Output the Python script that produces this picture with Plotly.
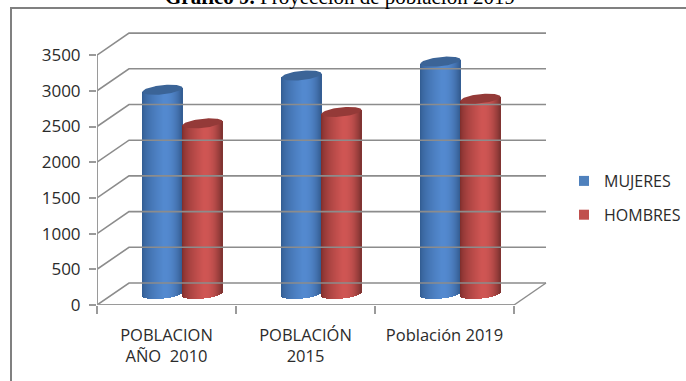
import numpy as np
import plotly.graph_objects as go

categories = ["POBLACION<br>AÑO  2010", "POBLACIÓN<br>2015", "Población 2019"]
mujeres = [2860, 3060, 3255]
hombres = [2390, 2550, 2735]
y_ticks = [0, 500, 1000, 1500, 2000, 2500, 3000, 3500]

W, H = 686, 381
L = 97                  # left edge of plot box in pixels
T, B = 0, 305           # plot box extends to the top of the page
CAT_PX = 139.0          # pixels per category
VAL_PX = 35.7 / 500     # pixels per unit
DX = 32 / CAT_PX        # 3-D depth offset in category units
DY = 22 / VAL_PX        # 3-D depth offset in value units
BAR_PX = 40             # cylinder width in pixels
HALF_H = 4.6 / VAL_PX   # ellipse half height
TILT = 2.0 / VAL_PX     # rise of the cap towards its right side

GRID = "#8c8c8c"
AXIS = "#9a9a9a"
TEXT = "#2b2b2b"
FRAME = "#808080"


def px(x):
    return (x - L) / (W - L)


def py(y):
    return (B - y) / (B - T)


fig = go.Figure()

for v in y_ticks:
    fig.add_trace(go.Scatter(x=[0, DX, 3 + DX], y=[v, v + DY, v + DY], mode="lines",
                             line=dict(color=GRID, width=1.6), showlegend=False, hoverinfo="skip"))
fig.add_trace(go.Scatter(x=[3, 3 + DX], y=[0, DY], mode="lines",
                         line=dict(color=GRID, width=1.4), showlegend=False, hoverinfo="skip"))
fig.add_trace(go.Scatter(x=[0, 0, 3], y=[3500, 0, 0], mode="lines",
                         line=dict(color=AXIS, width=2), showlegend=False, hoverinfo="skip"))


def shade(t, dark, mid, edge):
    dark, mid, edge = map(np.array, (dark, mid, edge))
    if t < 0.55:
        k = (t / 0.55) ** 0.55
        c = dark + (mid - dark) * k
    else:
        k = ((t - 0.55) / 0.45) ** 2.2
        c = mid + (edge - mid) * k
    return "rgb(%d,%d,%d)" % tuple(c)


def cylinder(i, value, side, dark, mid, edge, cap):
    cx = i + 0.5 + DX / 2 + side * (BAR_PX / 2) / CAT_PX
    base0 = DY / 2
    top0 = value + DY / 2
    n = BAR_PX
    ts = (np.arange(n) + 0.5) / n
    u = 2 * ts - 1
    xs = cx + u * (BAR_PX / 2) / CAT_PX
    bot = base0 - HALF_H * np.sqrt(1 - u ** 2) + TILT * u
    top = top0 + TILT * u
    fig.add_trace(go.Bar(x=xs, y=top - bot, base=bot, width=1.25 / CAT_PX,
                         marker=dict(color=[shade(t, dark, mid, edge) for t in ts], line=dict(width=0)),
                         showlegend=False, hoverinfo="skip"))
    th = np.linspace(0, 2 * np.pi, 80)
    ex = cx + np.cos(th) * (BAR_PX / 2) / CAT_PX
    ey = top0 + HALF_H * np.sin(th) + TILT * np.cos(th)
    fig.add_trace(go.Scatter(x=ex, y=ey, mode="lines", fill="toself", fillcolor=cap,
                             line=dict(width=0, color=cap), showlegend=False, hoverinfo="skip"))


for i in range(3):
    cylinder(i, mujeres[i], -1, (47, 88, 140), (84, 138, 208), (52, 92, 145), "#3b6497")
    cylinder(i, hombres[i], 1, (118, 42, 40), (208, 86, 84), (125, 50, 48), "#943a38")

fig.add_trace(go.Scatter(x=[None], y=[None], mode="markers", name="MUJERES", legendgroup="a",
                         marker=dict(color="#4f81bd", symbol="square", size=10)))
fig.add_trace(go.Scatter(x=[None], y=[None], mode="markers", name="HOMBRES", legendgroup="b",
                         marker=dict(color="#c0504d", symbol="square", size=10)))

fig.update_layout(
    width=W, height=H, autosize=False,
    margin=dict(l=L, r=0, t=T, b=H - B, autoexpand=False),
    paper_bgcolor="white", plot_bgcolor="white",
    barmode="overlay", bargap=0,
    font=dict(family="Open Sans, DejaVu Sans, sans-serif", color=TEXT, size=16),
    xaxis=dict(automargin=False, range=[0, (W - L) / CAT_PX], tickmode="array", tickvals=[0.5, 1.5, 2.5],
               ticktext=categories, ticks="", ticklabelstandoff=18, showgrid=False, zeroline=False,
               tickfont=dict(size=16.5),
               minor=dict(tickmode="array", tickvals=[0, 1, 2, 3], ticks="outside", ticklen=8,
                          tickcolor=AXIS, tickwidth=1.5, showgrid=False)),
    yaxis=dict(automargin=False, range=[0, (B - T) / VAL_PX], tickmode="array", tickvals=y_ticks,
               ticks="outside", ticklen=7, tickcolor=AXIS, tickwidth=1.5, showgrid=False,
               zeroline=False, ticklabelstandoff=5, tickfont=dict(size=17)),
    legend=dict(x=px(564), y=py(164), xanchor="left", yanchor="top",
                tracegroupgap=10, font=dict(size=16),
                bgcolor="rgba(0,0,0,0)", itemwidth=30),
    annotations=[dict(text="<b>Gráfico 9.</b> Proyección de población 2019", xref="paper",
                      yref="paper", x=px(340), y=py(-3), xanchor="center",
                      yanchor="middle", showarrow=False,
                      font=dict(family="Liberation Serif, serif", size=21, color="#000000"))],
    shapes=[dict(type="line", xref="paper", yref="paper", x0=px(10), x1=1,
                 y0=py(8), y1=py(8), line=dict(color=FRAME, width=2)),
            dict(type="line", xref="paper", yref="paper", x0=px(11), x1=px(11),
                 y0=py(381), y1=py(8), line=dict(color=FRAME, width=2))],
)

fig.write_html("out.html", config=dict(displayModeBar=False),
               post_script="document.body.style.margin='0';document.documentElement.style.overflow='hidden';")
